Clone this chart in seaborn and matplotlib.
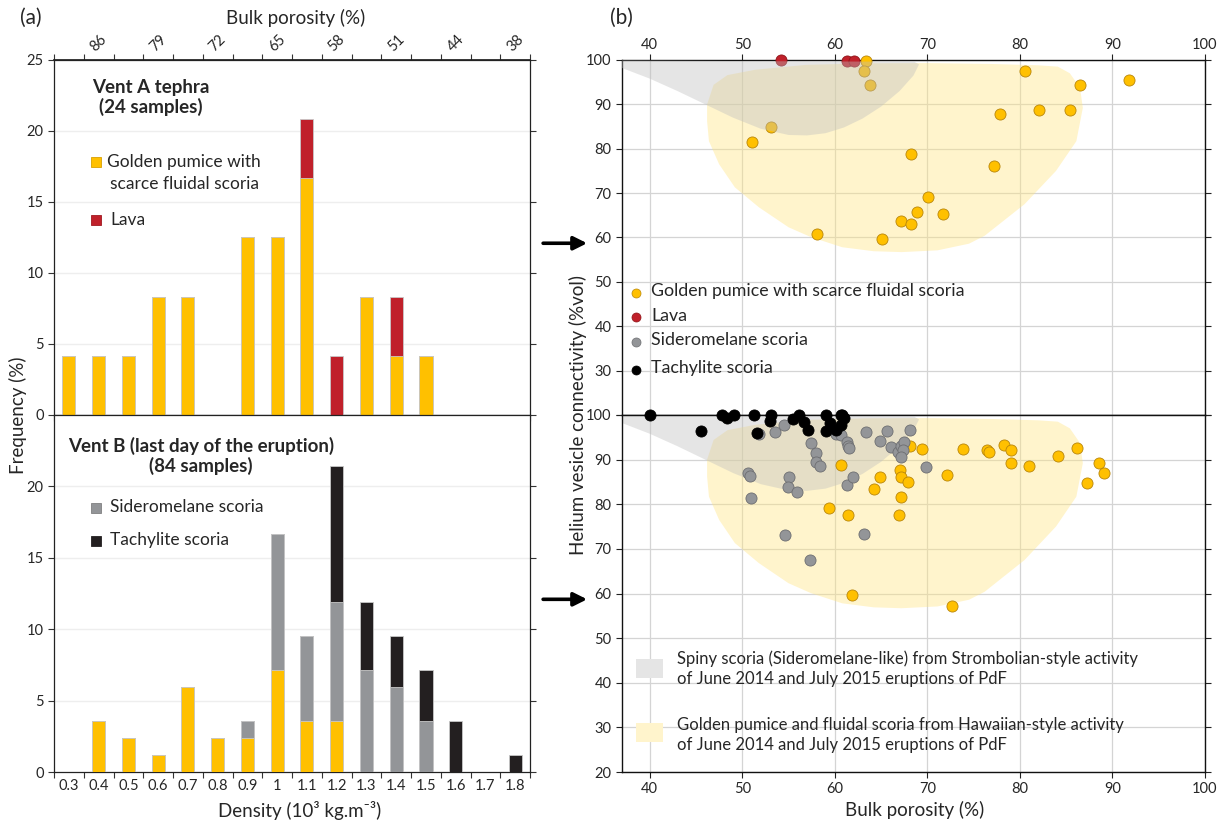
import numpy as np
import pandas as pd
import matplotlib
matplotlib.use("Agg")
import matplotlib.pyplot as plt
import seaborn as sns
from matplotlib.patches import Polygon, Rectangle
from matplotlib.ticker import FixedLocator

sns.set_theme(style="white")
plt.rcParams["font.family"] = ["Lato", "DejaVu Sans"]

# ---------------- data ----------------
density_bins = ["0.3", "0.4", "0.5", "0.6", "0.7", "0.8", "0.9", "1", "1.1",
                "1.2", "1.3", "1.4", "1.5", "1.6", "1.7", "1.8"]
ventA_golden = [4.17, 4.17, 4.17, 8.33, 8.33, 0, 12.5, 12.5, 16.67, 0, 8.33, 4.17, 4.17, 0, 0, 0]
ventA_lava = [0, 0, 0, 0, 0, 0, 0, 0, 4.17, 4.17, 0, 4.17, 0, 0, 0, 0]
ventB_golden = [0, 3.57, 2.38, 1.19, 5.95, 2.38, 2.38, 7.14, 3.57, 3.57, 0, 0, 0, 0, 0, 0]
ventB_sider = [0, 0, 0, 0, 0, 0, 1.19, 9.52, 5.95, 8.33, 7.14, 5.95, 3.57, 0, 0, 0]
ventB_tachy = [0, 0, 0, 0, 0, 0, 0, 0, 0, 9.52, 4.76, 3.57, 3.57, 3.57, 0, 1.19]
porosity_top_labels = ["86", "79", "72", "65", "58", "51", "44", "38"]

# Vent A scatter (bulk porosity %, He connectivity %)
A_gold_x = [63.4, 63.1, 63.8, 53.1, 51.1, 80.6, 86.5, 91.8, 77.9, 82.1, 85.4, 68.2, 77.2,
            70.1, 68.9, 71.7, 67.2, 68.2, 58.1, 65.1]
A_gold_y = [99.8, 97.6, 94.3, 84.9, 81.6, 97.5, 94.3, 95.4, 87.8, 88.7, 88.7, 78.8, 76.0,
            69.1, 65.7, 65.3, 63.7, 63.0, 60.7, 59.6]
A_lava_x = [54.2, 61.3, 62.1]
A_lava_y = [100.0, 99.8, 99.8]

# Vent B scatter
B_tachy_x = [40.0, 45.5, 47.8, 48.3, 49.1, 51.3, 51.6, 53.1, 53.0, 55.5, 56.1, 56.7, 57.1,
             59.0, 59.0, 59.5, 60.7, 60.8, 61.0, 60.7, 60.1]
B_tachy_y = [100.0, 96.3, 100.0, 99.4, 100.0, 100.0, 96.0, 100.0, 98.7, 99.1, 100.0, 98.4, 96.7,
             100.0, 96.4, 98.1, 100.0, 100.0, 99.3, 97.8, 96.6]
B_sider_x = [51.8, 53.5, 54.5, 50.6, 50.8, 50.9, 55.0, 54.9, 55.9, 54.6, 57.3, 57.4, 58.0,
             58.0, 58.4, 60.1, 60.7, 61.3, 61.4, 61.5, 61.3, 62.0, 63.2, 63.4, 64.9, 65.6,
             66.1, 66.8, 67.1, 67.5, 67.4, 67.2, 68.1, 69.9]
B_sider_y = [95.7, 96.1, 97.7, 86.9, 86.4, 81.3, 86.1, 83.8, 82.8, 73.2, 67.4, 93.7, 91.4,
             89.5, 88.5, 95.8, 95.5, 93.9, 93.0, 92.5, 84.2, 86.0, 73.4, 96.2, 94.2, 96.3,
             92.8, 91.7, 93.0, 93.9, 92.2, 90.6, 96.6, 88.4]
B_gold_x = [68.1, 69.4, 73.9, 76.4, 76.7, 78.3, 79.0, 79.0, 81.0, 84.1, 86.2, 88.6, 89.1,
            87.2, 72.1, 60.7, 64.9, 64.2, 67.0, 67.1, 67.9, 67.2, 59.4, 61.4, 66.9, 61.9, 72.7]
B_gold_y = [93.0, 92.3, 92.3, 92.1, 91.7, 93.3, 92.1, 89.3, 88.6, 90.7, 92.5, 89.3, 87.0,
            84.7, 86.5, 88.9, 86.1, 83.5, 87.7, 86.0, 84.9, 81.7, 79.1, 77.6, 77.6, 59.7, 57.3]

# Fields of previous eruptions (outlines, porosity %, connectivity %)
spiny_x = [37, 37, 40, 43, 46, 49, 52, 55, 57, 59, 61, 63, 65, 67, 68.5, 69.1, 68.6, 55, 37]
spiny_y = [99.9, 98.2, 95.8, 93.0, 90.0, 87.0, 84.5, 83.1, 83.0, 83.5, 84.8, 86.8, 89.5,
           93.0, 96.5, 99.0, 99.6, 99.7, 99.9]
golden_x = [46.9, 48.4, 51.4, 56.9, 63.4, 70, 77, 82, 84.1, 85.4, 86.5, 86.8, 86.1, 83.9,
            80.5, 76.2, 74.5, 71.1, 67.2, 64.2, 60.8, 57.4, 55.0, 51.8, 49.2, 47.5, 46.4,
            46.2, 46.2]
golden_y = [94.4, 96.6, 97.8, 98.9, 99.25, 99.3, 99.1, 98.8, 98.5, 97.0, 93.7, 89.2, 81.7,
            75.0, 67.5, 60.4, 58.6, 57.1, 56.7, 56.9, 57.8, 60.1, 62.3, 66.8, 71.3, 76.5,
            81.7, 86.2, 90.0]

# ---------------- styles ----------------
GOLD = "#FFC000"
RED = "#C0202A"
GRAY = "#939598"
BLACK = "#231F20"
EDGE = "#C8C8C8"

fig = plt.figure(figsize=(12.2, 8.25), dpi=100)
axA = fig.add_axes([0.0443, 0.4970, 0.3902, 0.4303])
axB = fig.add_axes([0.0443, 0.0642, 0.3902, 0.4328])
axR1 = fig.add_axes([0.5098, 0.4970, 0.4779, 0.4303])
axR2 = fig.add_axes([0.5098, 0.0642, 0.4779, 0.4328])

n = len(density_bins)
bw = 0.44


def stacked(ax, layers):
    # layers: list of (values, color) from bottom to top; draw cumulative totals top-first
    cum = np.cumsum([np.array(v, float) for v, c in layers], axis=0)
    for i in range(len(layers) - 1, -1, -1):
        sns.barplot(x=density_bins, y=cum[i], color=layers[i][1], saturation=1,
                    width=bw, errorbar=None, edgecolor=EDGE, linewidth=0.6, ax=ax, zorder=3)


stacked(axA, [(ventA_golden, GOLD), (ventA_lava, RED)])
stacked(axB, [(ventB_golden, GOLD), (ventB_sider, GRAY), (ventB_tachy, BLACK)])

for ax, top in ((axA, True), (axB, False)):
    ax.set_xlim(-0.5, n - 0.5)
    ax.set_ylim(0, 25)
    ax.set_xlabel("")
    ax.set_ylabel("")
    ax.set_yticks([0, 5, 10, 15, 20, 25])
    for yv in [5, 10, 15, 20]:
        ax.axhline(yv, color="#EEEEEE", lw=1.0, zorder=0)
    ax.xaxis.set_minor_locator(FixedLocator(np.arange(-0.5, n, 1.0)))
    ax.tick_params(axis="x", which="major", length=0, labelsize=10.5, pad=5)
    ax.tick_params(axis="x", which="minor", length=4, width=0.8, direction="out",
                   bottom=True, color="#333333")
    ax.tick_params(axis="y", which="major", length=4, width=0.8, direction="out",
                   left=True, right=True, labelsize=10.5, color="#333333")
    for s in ax.spines.values():
        s.set_color("#222222")
        s.set_linewidth(0.9)

axA.set_xticklabels([])
axB.set_yticks([0, 5, 10, 15, 20])
axB.set_ylim(0, 25)

# top porosity axis
sec = axA.secondary_xaxis("top")
sec.set_xticks(np.arange(1, n, 2))
sec.set_xticklabels(porosity_top_labels, rotation=45)
sec.xaxis.set_minor_locator(FixedLocator(np.arange(-0.5, n, 1.0)))
sec.tick_params(axis="x", which="major", length=0, labelsize=10.5, pad=4)
sec.tick_params(axis="x", which="minor", length=4, width=0.8, direction="out",
                color="#333333")
sec.spines["top"].set_color("#222222")

# left panel texts
axA.text(0.204, 0.894, "Vent A tephra\n(24 samples)", transform=axA.transAxes,
         ha="center", va="center", fontsize=13.5, fontweight="bold", linespacing=1.15)
axB.text(0.309, 0.885, "Vent B (last day of the eruption)\n(84 samples)",
         transform=axB.transAxes, ha="center", va="center", fontsize=13.5,
         fontweight="bold", linespacing=1.15)


def sq(ax, x, y, c, ec):
    ax.plot([x], [y], marker="s", ms=7, color=c, mec=ec, mew=0.6, ls="none",
            transform=ax.transAxes, clip_on=False, zorder=5)


sq(axA, 0.088, 0.712, GOLD, "#D9A000")
axA.text(0.112, 0.712, "Golden pumice with", transform=axA.transAxes, va="center", fontsize=12.5)
axA.text(0.118, 0.650, "scarce fluidal scoria", transform=axA.transAxes, va="center", fontsize=12.5)
sq(axA, 0.088, 0.550, RED, "#A01820")
axA.text(0.118, 0.550, "Lava", transform=axA.transAxes, va="center", fontsize=12.5)
sq(axB, 0.088, 0.739, GRAY, "#808080")
axB.text(0.118, 0.741, "Sideromelane scoria", transform=axB.transAxes, va="center", fontsize=12.5)
sq(axB, 0.088, 0.647, BLACK, BLACK)
axB.text(0.118, 0.649, "Tachylite scoria", transform=axB.transAxes, va="center", fontsize=12.5)

# ---------------- right panel ----------------
for ax, gz in ((axR1, 4), (axR2, 2)):
    ax.set_xlim(37, 100)
    ax.set_ylim(20, 100)
    ax.set_xticks(np.arange(40, 101, 10))
    ax.set_yticks(np.arange(20, 101, 10))
    ax.grid(True, color="#D4D4D4", lw=0.9, zorder=0)
    ax.set_axisbelow(True)
    ax.add_patch(Polygon(np.column_stack([golden_x, golden_y]), closed=True,
                         facecolor="#FFE580", alpha=0.40, edgecolor="none", zorder=1))
    ax.add_patch(Polygon(np.column_stack([spiny_x, spiny_y]), closed=True,
                         facecolor="#BFBFBF", alpha=0.40, edgecolor="none", zorder=gz))
    for s in ax.spines.values():
        s.set_color("#111111")
        s.set_linewidth(1.0)
    ax.tick_params(axis="y", which="major", length=4, width=0.8, direction="out",
                   left=True, right=True, labelsize=10.5, color="#222222")
    ax.annotate("", xy=(-0.055, 58.7), xycoords=("axes fraction", "data"),
                xytext=(-0.140, 58.7), textcoords=("axes fraction", "data"),
                arrowprops=dict(arrowstyle="-|>", color="black", lw=2.6, mutation_scale=20),
                annotation_clip=False)

axR1.xaxis.tick_top()
axR1.tick_params(axis="x", which="major", length=4, width=0.8, direction="out",
                 top=True, bottom=False, labelsize=10.5, color="#222222", pad=2)
axR2.tick_params(axis="x", which="major", length=4, width=0.8, direction="out",
                 bottom=True, labelsize=10.5, color="#222222")
axR1.set_yticks(np.arange(20, 101, 10))
axR1.set_yticklabels([""] + [str(v) for v in range(30, 101, 10)])

mk = dict(s=64, linewidth=0.6, legend=False, clip_on=False)
sns.scatterplot(x=A_gold_x, y=A_gold_y, color=GOLD, edgecolor="#B8860B", ax=axR1, zorder=3, **mk)
sns.scatterplot(x=A_lava_x, y=A_lava_y, color=RED, edgecolor="#8E1418", ax=axR1, zorder=3, **mk)
sns.scatterplot(x=B_gold_x, y=B_gold_y, color=GOLD, edgecolor="#B8860B", ax=axR2, zorder=3, **mk)
sns.scatterplot(x=B_sider_x, y=B_sider_y, color=GRAY, edgecolor="#6D6E71", ax=axR2, zorder=3, **mk)
sns.scatterplot(x=B_tachy_x, y=B_tachy_y, color="black", edgecolor="black", ax=axR2, zorder=5, **mk)
for ax in (axR1, axR2):
    ax.set_xlabel("")
    ax.set_ylabel("")
    ax.set_xlim(37, 100)
    ax.set_ylim(20, 100)

# right top legend
leg_items = [("Golden pumice with scarce fluidal scoria", GOLD, "#B8860B", 0.344),
             ("Lava", RED, "#8E1418", 0.276),
             ("Sideromelane scoria", GRAY, "#6D6E71", 0.206),
             ("Tachylite scoria", "black", "black", 0.128)]
for lab, c, ec, yy in leg_items:
    axR1.plot([0.024], [yy], marker="o", ms=6.5, color=c, mec=ec, mew=0.5, ls="none",
              transform=axR1.transAxes, zorder=6)
    axR1.text(0.050, yy + 0.004, lab, transform=axR1.transAxes, va="center", fontsize=12.8,
              zorder=6)

# right bottom legend (fields)
axR2.add_patch(Rectangle((0.024, 0.264), 0.047, 0.052, transform=axR2.transAxes,
                         facecolor="#E5E5E5", edgecolor="none", zorder=6))
axR2.text(0.094, 0.290, "Spiny scoria (Sideromelane-like) from Strombolian-style activity\n"
          "of June 2014 and July 2015 eruptions of PdF", transform=axR2.transAxes,
          va="center", fontsize=12, linespacing=1.3, zorder=6)
axR2.add_patch(Rectangle((0.024, 0.084), 0.047, 0.052, transform=axR2.transAxes,
                         facecolor="#FFF4CC", edgecolor="none", zorder=6))
axR2.text(0.094, 0.103, "Golden pumice and fluidal scoria from Hawaiian-style activity\n"
          "of June 2014 and July 2015 eruptions of PdF", transform=axR2.transAxes,
          va="center", fontsize=12, linespacing=1.3, zorder=6)

# figure texts
fig.text(0.016, 0.978, "(a)", fontsize=15, va="center", ha="left")
fig.text(0.500, 0.978, "(b)", fontsize=15, va="center", ha="left")
fig.text(0.242, 0.978, "Bulk porosity (%)", fontsize=13.5, ha="center", va="center")
fig.text(0.246, 0.018, "Density (10³ kg.m⁻³)", fontsize=13.5, ha="center", va="center")
fig.text(0.750, 0.018, "Bulk porosity (%)", fontsize=13.5, ha="center", va="center")
fig.text(0.0145, 0.497, "Frequency (%)", fontsize=13.5, ha="center", va="center", rotation=90)
fig.text(0.4738, 0.497, "Helium vesicle connectivity (%vol)", fontsize=13.5, ha="center",
         va="center", rotation=90)

fig.savefig("out.png", dpi=100)
